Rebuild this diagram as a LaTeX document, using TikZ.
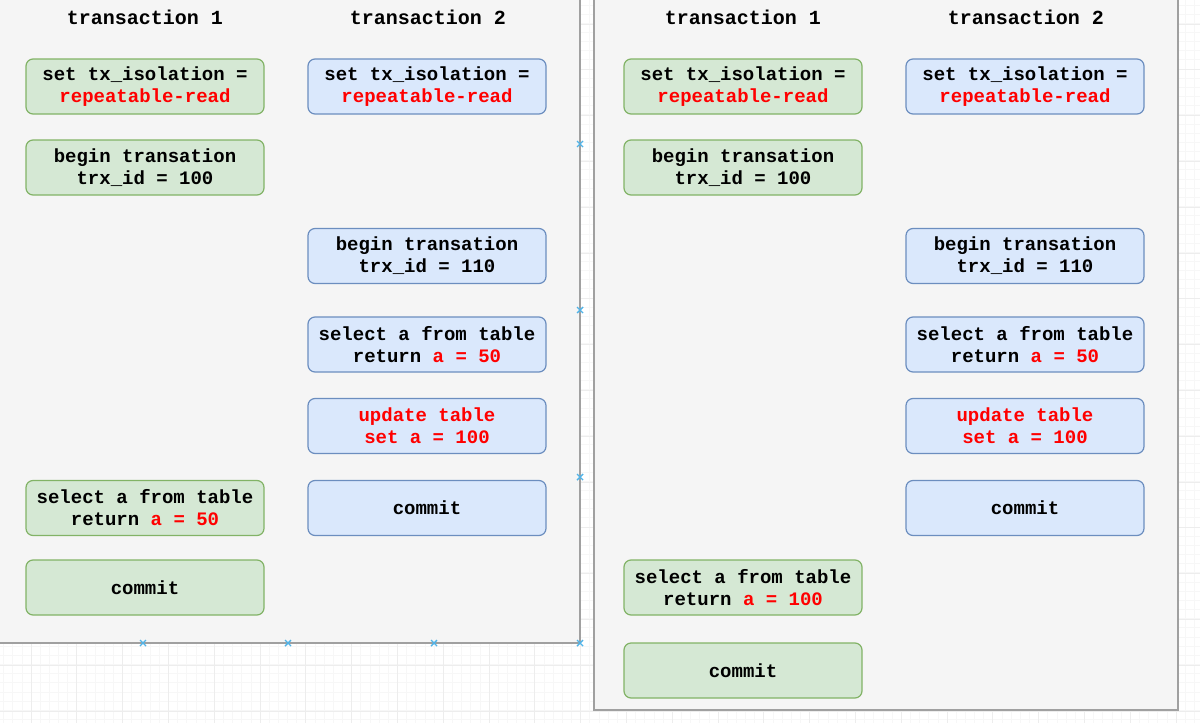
\documentclass[tikz,border=0pt]{standalone}
\usepackage{fontspec}
\setmonofont{Liberation Mono}
\usepackage{xcolor}
\usetikzlibrary{positioning}
\definecolor{grnfill}{HTML}{D5E8D4}
\definecolor{grnline}{HTML}{82B366}
\definecolor{blufill}{HTML}{DAE8FC}
\definecolor{bluline}{HTML}{6C8EBF}
\definecolor{panelfill}{HTML}{F5F5F5}
\definecolor{panelline}{HTML}{A0A0A0}
\definecolor{handle}{HTML}{4FB3E8}
\newcommand{\hl}[1]{\textcolor{red}{#1}}
\tikzset{
  stepbox/.style  = {draw, rounded corners=7pt, line width=1.2pt, inner sep=0pt,
                     minimum width=238pt, minimum height=55pt, align=center,
                     font=\ttfamily\bfseries\fontsize{19}{22}\selectfont},
  tone/.style     = {stepbox, fill=grnfill, draw=grnline},
  ttwo/.style     = {stepbox, fill=blufill, draw=bluline},
  colhead/.style  = {font=\ttfamily\bfseries\fontsize{20}{22}\selectfont},
  panel/.style    = {draw=panelline, line width=2pt},
  gridmaj/.style  = {draw=black!7, line width=0.8pt},
  gridmin/.style  = {draw=black!3, line width=0.6pt},
  sel/.style      = {draw=handle, line width=1.4pt},
}

\begin{document}
\begin{tikzpicture}[x=1pt,y=-1pt]
\useasboundingbox (0,0) rectangle (1200,723);
% canvas grid
\foreach \gx in {3.5,12.66,...,1200} \draw[gridmin] (\gx,0) -- (\gx,723);
\foreach \gy in {4.8,13.96,...,723} \draw[gridmin] (0,\gy) -- (1200,\gy);
\foreach \gx in {31,76.8,...,1200} \draw[gridmaj] (\gx,0) -- (\gx,723);
\foreach \gy in {23.9,69.7,...,723} \draw[gridmaj] (0,\gy) -- (1200,\gy);

% left panel
\fill[panelfill] (-5,-5) rectangle (580,643);
\draw[panel] (580,-5) -- (580,643) -- (-5,643);
% right panel
\fill[panelfill] (594,-5) rectangle (1178,710);
\draw[panel] (594,-5) -- (594,710) -- (1178,710) -- (1178,-5);

% --- before: t1 reads before t2 commits
\node[colhead] (hd1) at (145,17) {transaction 1};
\node[colhead] (hd2) at (428,17) {transaction 2};

\node[tone] (iso1) at (145,86.5) {set tx\_isolation =\\\hl{repeatable-read}};
\node[ttwo] (iso2) at (427,86.5) {set tx\_isolation =\\\hl{repeatable-read}};
\node[tone] (beg1) at (145,167.5) {begin transation\\trx\_id = 100};
\node[ttwo] (beg2) at (427,256) {begin transation\\trx\_id = 110};
\node[ttwo] (sel2) at (427,344.5) {select a from table\\return \hl{a = 50}};
\node[ttwo] (upd2) at (427,426) {\hl{update table}\\\hl{set a = 100}};
\node[ttwo] (com2) at (427,508) {commit};
\node[tone] (sel1) at (145,508) {select a from table\\return \hl{a = 50}};
\node[tone] (com1) at (145,587.5) {commit};

% --- after: t1 reads after t2 commits
\node[colhead] (rhd1) at (743,17) {transaction 1};
\node[colhead] (rhd2) at (1026,17) {transaction 2};

\node[tone] (riso1) at (743,86.5) {set tx\_isolation =\\\hl{repeatable-read}};
\node[ttwo] (riso2) at (1025,86.5) {set tx\_isolation =\\\hl{repeatable-read}};
\node[tone] (rbeg1) at (743,167.5) {begin transation\\trx\_id = 100};
\node[ttwo] (rbeg2) at (1025,256) {begin transation\\trx\_id = 110};
\node[ttwo] (rsel2) at (1025,344.5) {select a from table\\return \hl{a = 50}};
\node[ttwo] (rupd2) at (1025,426) {\hl{update table}\\\hl{set a = 100}};
\node[ttwo] (rcom2) at (1025,508) {commit};
\node[tone] (rsel1) at (743,587.5) {select a from table\\return \hl{a = 100}};
\node[tone] (rcom1) at (743,670.5) {commit};

% selection handles
\foreach \hx/\hy in {143/643,288/643,434/643,580/643,580/144,580/310,580/477}
  \draw[sel] (\hx-3,\hy-3) -- (\hx+3,\hy+3) (\hx-3,\hy+3) -- (\hx+3,\hy-3);
\end{tikzpicture}
\end{document}
